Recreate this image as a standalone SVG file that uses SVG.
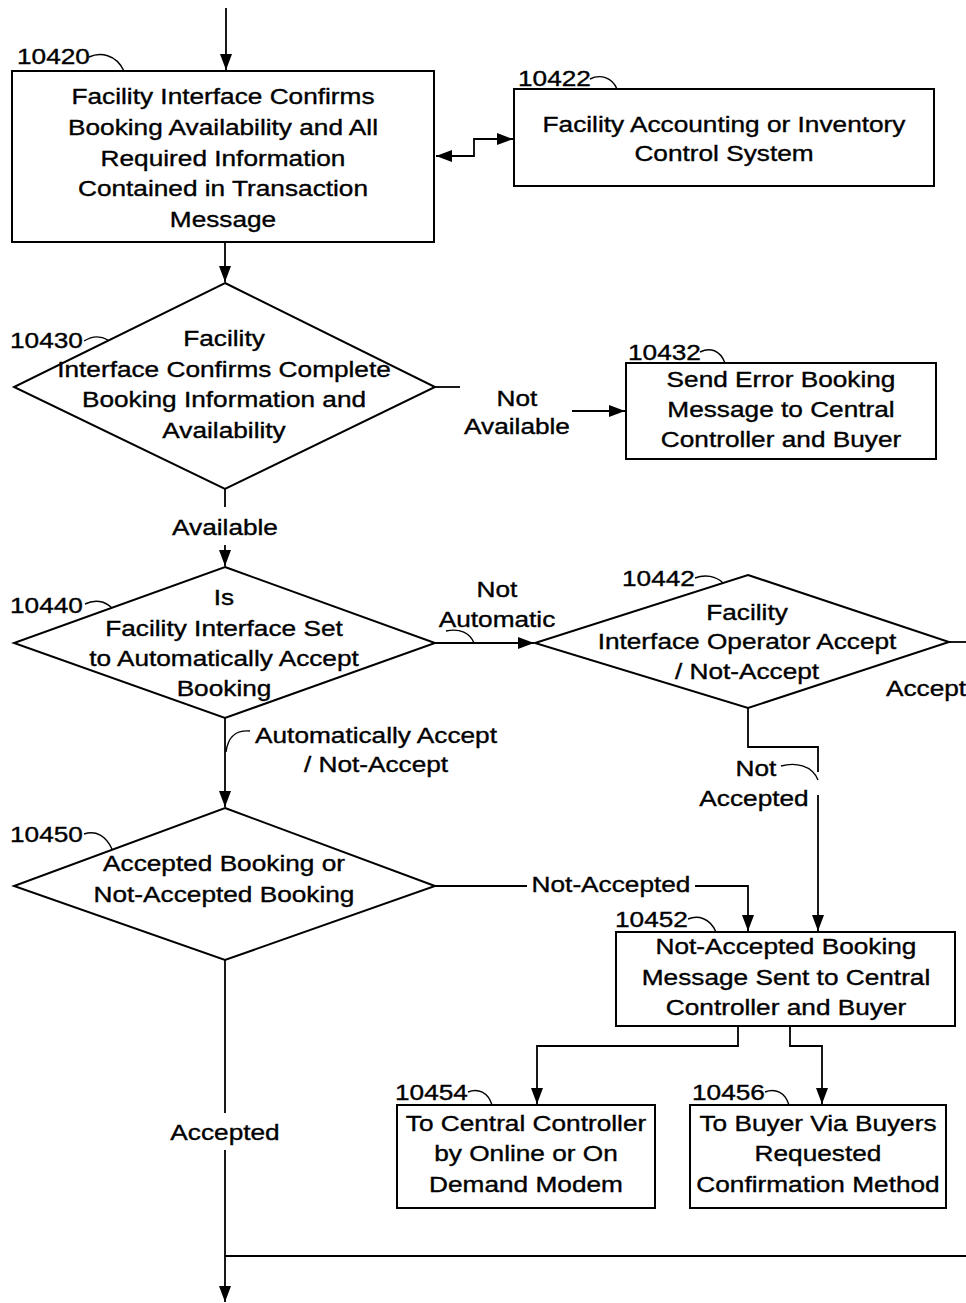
<svg xmlns="http://www.w3.org/2000/svg" width="966" height="1303" viewBox="0 0 966 1303">
<defs>
<style>
.t{font-family:"Liberation Sans",Arial,sans-serif;font-size:21.5px;fill:#000;stroke:#000;stroke-width:0.35;text-anchor:middle}
.s{text-anchor:start}
.box{fill:#fff;stroke:#000;stroke-width:2}
.ln{fill:none;stroke:#000;stroke-width:1.8}
.ld{fill:none;stroke:#000;stroke-width:1.4}
</style>
<marker id="ah" markerUnits="userSpaceOnUse" markerWidth="16" markerHeight="12" refX="16" refY="6" orient="auto-start-reverse"><path d="M0,0 L16,6 L0,12 z" fill="#000"/></marker>
</defs>
<rect width="966" height="1303" fill="#fff"/>

<g id="connectors">
<path class="ln" d="M226 8 V70" stroke-width="2.4" marker-end="url(#ah)"/>
<path class="ln" d="M225 242 V282" marker-end="url(#ah)"/>
<path class="ln" d="M436 156 H474 V139 H513" marker-start="url(#ah)" marker-end="url(#ah)"/>
<path class="ln" d="M435 387 H460"/>
<path class="ln" d="M572 411 H625" marker-end="url(#ah)"/>
<path class="ln" d="M225 489 V507"/>
<path class="ln" d="M225 545 V566" marker-end="url(#ah)"/>
<path class="ln" d="M435 643 H534" marker-end="url(#ah)"/>
<path class="ln" d="M949 642 H966"/>
<path class="ln" d="M748 708 V747 H818 V772"/>
<path class="ln" d="M818 795 V931" marker-end="url(#ah)"/>
<path class="ln" d="M225 718 V807" marker-end="url(#ah)"/>
<path class="ln" d="M435 886 H527"/>
<path class="ln" d="M695 886 H748 V931" marker-end="url(#ah)"/>
<path class="ln" d="M225 960 V1113"/>
<path class="ln" d="M225 1150 V1302" marker-end="url(#ah)"/>
<path class="ln" d="M225 1256 H966"/>
<path class="ln" d="M738 1026 V1046 H537 V1104" marker-end="url(#ah)"/>
<path class="ln" d="M790 1026 V1046 H822 V1104" marker-end="url(#ah)"/>
<path class="ld" d="M446 631 C460 628,470 633,474 643"/>
<path class="ld" d="M781 766 C795 762,812 765,818 780"/>
<path class="ld" d="M250 731 C236 730,228 736,226 752"/>
<text class="t" transform="translate(517,406) scale(1.22,1)">Not</text>
<text class="t" transform="translate(517,434) scale(1.22,1)">Available</text>
<text class="t" transform="translate(225,535) scale(1.22,1)">Available</text>
<text class="t" transform="translate(497,597) scale(1.22,1)">Not</text>
<text class="t" transform="translate(497,627) scale(1.22,1)">Automatic</text>
<text class="t s" transform="translate(886,696) scale(1.22,1)">Accept</text>
<text class="t" transform="translate(376,743) scale(1.22,1)">Automatically Accept</text>
<text class="t" transform="translate(376,772) scale(1.22,1)">/ Not-Accept</text>
<text class="t" transform="translate(756,776) scale(1.22,1)">Not</text>
<text class="t" transform="translate(754,806) scale(1.22,1)">Accepted</text>
<text class="t" transform="translate(611,892) scale(1.22,1)">Not-Accepted</text>
<text class="t" transform="translate(225,1140) scale(1.22,1)">Accepted</text>
</g>

<g id="n10420">
<rect class="box" x="12" y="71" width="422" height="171"/>
<text class="t" transform="translate(223,104) scale(1.22,1)">Facility Interface Confirms</text>
<text class="t" transform="translate(223,135) scale(1.22,1)">Booking Availability and All</text>
<text class="t" transform="translate(223,166) scale(1.22,1)">Required Information</text>
<text class="t" transform="translate(223,196) scale(1.22,1)">Contained in Transaction</text>
<text class="t" transform="translate(223,227) scale(1.22,1)">Message</text>
<text class="t s" transform="translate(17,64) scale(1.22,1)">10420</text>
<path class="ld" d="M89 57 C100 52,116 54,124 71"/>
</g>

<g id="n10422">
<rect class="box" x="514" y="89" width="420" height="97"/>
<text class="t" transform="translate(724,132) scale(1.22,1)">Facility Accounting or Inventory</text>
<text class="t" transform="translate(724,161) scale(1.22,1)">Control System</text>
<text class="t s" transform="translate(518,86) scale(1.22,1)">10422</text>
<path class="ld" d="M590 79 C600 74,612 77,617 89"/>
</g>

<g id="n10430">
<polygon class="box" points="225,283 435,387 225,489 14,387"/>
<text class="t" transform="translate(224,346) scale(1.22,1)">Facility</text>
<text class="t" transform="translate(224,377) scale(1.22,1)">Interface Confirms Complete</text>
<text class="t" transform="translate(224,407) scale(1.22,1)">Booking Information and</text>
<text class="t" transform="translate(224,438) scale(1.22,1)">Availability</text>
<text class="t s" transform="translate(10,348) scale(1.22,1)">10430</text>
<path class="ld" d="M84 341 C92 336,101 336,108 340"/>
</g>

<g id="n10432">
<rect class="box" x="626" y="363" width="310" height="96"/>
<text class="t" transform="translate(781,387) scale(1.22,1)">Send Error Booking</text>
<text class="t" transform="translate(781,417) scale(1.22,1)">Message to Central</text>
<text class="t" transform="translate(781,447) scale(1.22,1)">Controller and Buyer</text>
<text class="t s" transform="translate(628,360) scale(1.22,1)">10432</text>
<path class="ld" d="M700 352 C710 347,720 350,725 363"/>
</g>

<g id="n10440">
<polygon class="box" points="225,567 435,643 225,718 14,643"/>
<text class="t" transform="translate(224,605) scale(1.22,1)">Is</text>
<text class="t" transform="translate(224,636) scale(1.22,1)">Facility Interface Set</text>
<text class="t" transform="translate(224,666) scale(1.22,1)">to Automatically Accept</text>
<text class="t" transform="translate(224,696) scale(1.22,1)">Booking</text>
<text class="t s" transform="translate(10,613) scale(1.22,1)">10440</text>
<path class="ld" d="M85 604 C95 599,105 601,112 608"/>
</g>

<g id="n10442">
<polygon class="box" points="748,575 949,642 748,708 535,643"/>
<text class="t" transform="translate(747,620) scale(1.22,1)">Facility</text>
<text class="t" transform="translate(747,649) scale(1.22,1)">Interface Operator Accept</text>
<text class="t" transform="translate(747,679) scale(1.22,1)">/ Not-Accept</text>
<text class="t s" transform="translate(622,586) scale(1.22,1)">10442</text>
<path class="ld" d="M695 578 C705 574,716 576,723 583"/>
</g>

<g id="n10450">
<polygon class="box" points="225,808 435,886 225,960 14,886"/>
<text class="t" transform="translate(224,871) scale(1.22,1)">Accepted Booking or</text>
<text class="t" transform="translate(224,902) scale(1.22,1)">Not-Accepted Booking</text>
<text class="t s" transform="translate(10,842) scale(1.22,1)">10450</text>
<path class="ld" d="M84 834 C96 830,106 836,112 849"/>
</g>

<g id="n10452">
<rect class="box" x="616" y="932" width="339" height="94"/>
<text class="t" transform="translate(786,954) scale(1.22,1)">Not-Accepted Booking</text>
<text class="t" transform="translate(786,985) scale(1.22,1)">Message Sent to Central</text>
<text class="t" transform="translate(786,1015) scale(1.22,1)">Controller and Buyer</text>
<text class="t s" transform="translate(615,927) scale(1.22,1)">10452</text>
<path class="ld" d="M688 919 C698 915,710 918,716 932"/>
</g>

<g id="n10454">
<rect class="box" x="397" y="1105" width="258" height="103"/>
<text class="t" transform="translate(526,1131) scale(1.22,1)">To Central Controller</text>
<text class="t" transform="translate(526,1161) scale(1.22,1)">by Online or On</text>
<text class="t" transform="translate(526,1192) scale(1.22,1)">Demand Modem</text>
<text class="t s" transform="translate(395,1100) scale(1.22,1)">10454</text>
<path class="ld" d="M468 1092 C478 1088,488 1092,492 1105"/>
</g>

<g id="n10456">
<rect class="box" x="690" y="1105" width="256" height="103"/>
<text class="t" transform="translate(818,1131) scale(1.22,1)">To Buyer Via Buyers</text>
<text class="t" transform="translate(818,1161) scale(1.22,1)">Requested</text>
<text class="t" transform="translate(818,1192) scale(1.22,1)">Confirmation Method</text>
<text class="t s" transform="translate(692,1100) scale(1.22,1)">10456</text>
<path class="ld" d="M765 1092 C775 1088,785 1092,789 1105"/>
</g>
</svg>
